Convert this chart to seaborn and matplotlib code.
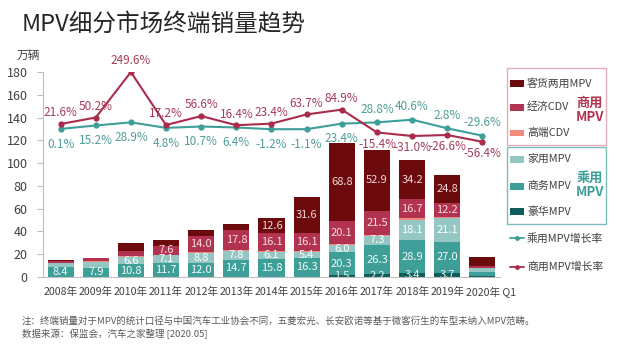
import numpy as np
import matplotlib
matplotlib.use("Agg")
import matplotlib.pyplot as plt
import matplotlib.transforms as mtransforms
import seaborn as sns
from matplotlib.patches import Rectangle
from matplotlib.lines import Line2D

# ---- data (万辆) ----
years = ["2008年", "2009年", "2010年", "2011年", "2012年", "2013年", "2014年",
         "2015年", "2016年", "2017年", "2018年", "2019年", "2020年 Q1"]
luxury_mpv = [0.3, 0.3, 0.3, 0.3, 0.3, 0.3, 0.3, 0.3, 1.5, 2.2, 3.4, 3.7, 0.5]
business_mpv = [8.4, 7.9, 10.8, 11.7, 12.0, 14.7, 15.8, 16.3, 20.3, 26.3, 28.9, 27.0, 3.6]
family_mpv = [3.2, 5.3, 6.6, 7.1, 8.8, 7.8, 6.1, 5.4, 6.0, 7.3, 18.1, 21.1, 3.5]
premium_cdv = [0.4, 0.3, 0.5, 0.5, 0.5, 0.5, 0.5, 0.5, 1.0, 1.0, 1.0, 1.0, 0.5]
economy_cdv = [1.5, 2.6, 4.5, 7.6, 14.0, 17.8, 16.1, 16.1, 20.1, 21.5, 16.7, 12.2, 1.5]
cargo_mpv = [0.8, 0.5, 7.0, 5.5, 6.0, 5.6, 12.6, 31.6, 68.8, 52.9, 34.2, 24.8, 7.6]

# growth rates (%)
passenger_growth = [0.1, 15.2, 28.9, 4.8, 10.7, 6.4, -1.2, -1.1, 23.4, 28.8, 40.6, 2.8, -29.6]
commercial_growth = [21.6, 50.2, 249.6, 17.2, 56.6, 16.4, 23.4, 63.7, 84.9, -15.4, -31.0, -26.6, -56.4]

# first year index from which each segment carries a value label (2020 Q1 never labelled)
label_from = {"豪华MPV": 8, "商务MPV": 0, "家用MPV": 2, "高端CDV": 99, "经济CDV": 3, "客货两用MPV": 6}

C_LUX = "#0E5D5B"
C_BUS = "#3D9F98"
C_FAM = "#94C7C3"
C_PRE = "#F28A7E"
C_ECO = "#B2334F"
C_CAR = "#6C0A0D"
C_PASS_LINE = "#3E9F98"
C_COMM_LINE = "#A92C4C"

layers = [  # bottom -> top
    ("豪华MPV", luxury_mpv, C_LUX, "#E6F2F1"),
    ("商务MPV", business_mpv, C_BUS, "#F2FAF9"),
    ("家用MPV", family_mpv, C_FAM, "#FFFFFF"),
    ("高端CDV", premium_cdv, C_PRE, "#FFFFFF"),
    ("经济CDV", economy_cdv, C_ECO, "#F8DCE2"),
    ("客货两用MPV", cargo_mpv, C_CAR, "#F3D6D6"),
]

sns.set_style("white")
plt.rcParams["font.family"] = ["Noto Sans CJK SC", "DejaVu Sans"]
plt.rcParams["axes.unicode_minus"] = False

W, H = 620, 348
fig = plt.figure(figsize=(W / 100, H / 100), dpi=100)


def fx(px):
    return px / W


def fy(py):
    return 1 - py / H


ax = fig.add_axes([fx(43), fy(277), (500 - 43) / W, (277 - 72) / H])

n = len(years)
x = np.arange(n)

# cumulative tops of each stacked segment
tops, bottoms = [], []
cum = np.zeros(n)
for _, vals, _, _ in layers:
    bottoms.append(cum.copy())
    cum = cum + np.asarray(vals, dtype=float)
    tops.append(cum.copy())

# draw the tallest cumulative stack first, lower segments cover it
for (name, vals, color, _), top in reversed(list(zip(layers, tops))):
    sns.barplot(x=years, y=top, order=years, color=color, saturation=1,
                width=0.74, linewidth=0, errorbar=None, ax=ax)

# segment value labels
for (name, vals, color, tcolor), bot in zip(layers, bottoms):
    start = label_from[name]
    for i in range(n - 1):
        if i >= start:
            ax.text(i, bot[i] + vals[i] / 2, f"{vals[i]:.1f}", ha="center", va="center",
                    fontsize=8, color=tcolor, clip_on=True)

ax.set_ylim(0, 180)
ax.set_yticks(range(0, 181, 20))
ax.set_xticks(x)
ax.set_xticklabels(years)
ax.set_xticks(np.arange(-0.5, n, 1.0), minor=True)
ax.tick_params(axis="x", which="major", length=0, pad=7, labelsize=7.6, labelcolor="#404040")
ax.tick_params(axis="x", which="minor", length=4, width=0.8, color="#BFBFBF", direction="out")
ax.tick_params(axis="y", length=4, width=0.8, color="#BFBFBF", pad=7, labelsize=9,
               labelcolor="#404040", direction="out", left=True)
ax.set_xlabel("")
ax.set_ylabel("")
# the quarter label sits a little to the right of its bar
last = ax.get_xticklabels()[-1]
last.set_transform(last.get_transform() + mtransforms.ScaledTranslation(9 / 100, 0, fig.dpi_scale_trans))
for side in ("top", "right"):
    ax.spines[side].set_visible(False)
for side in ("left", "bottom"):
    ax.spines[side].set_color("#BFBFBF")
    ax.spines[side].set_linewidth(0.8)

# growth-rate lines on a hidden secondary scale
ax2 = ax.twinx()
sns.lineplot(x=x, y=passenger_growth, color=C_PASS_LINE, marker="o", markersize=4.5,
             markeredgewidth=0, linewidth=1.5, ax=ax2)
sns.lineplot(x=x, y=commercial_growth, color=C_COMM_LINE, marker="o", markersize=4.5,
             markeredgewidth=0, linewidth=1.5, ax=ax2)
ax2.set_ylim(-650, 250)
ax2.axis("off")

for i in range(n):
    pg, cg = passenger_growth[i], commercial_growth[i]
    comm_above = cg >= pg
    ax2.annotate(f"{cg:.1f}%", (i, cg), xytext=(0, 8 if comm_above else -8.5),
                 textcoords="offset points", ha="center", va="center",
                 fontsize=8.5, color="#A53C58", annotation_clip=False)
    ax2.annotate(f"{pg:.1f}%", (i, pg), xytext=(0, -11 if comm_above else 9.5),
                 textcoords="offset points", ha="center", va="center",
                 fontsize=8.5, color="#4E9E99", annotation_clip=False)

ax.set_xlim(-0.5, n - 0.5)

# titles and notes
fig.text(fx(22), fy(24), "MPV细分市场终端销量趋势", fontsize=17, color="#262626",
         ha="left", va="center")
fig.text(fx(17), fy(55), "万辆", fontsize=8.5, color="#404040", ha="left", va="center")
fig.text(fx(22), fy(321),
         "注：终端销量对于MPV的统计口径与中国汽车工业协会不同，五菱宏光、长安欧诺等基于微客衍生的车型未纳入MPV范畴。",
         fontsize=6.8, color="#595959", ha="left", va="center")
fig.text(fx(22), fy(334), "数据来源：保监会，汽车之家整理 [2020.05]",
         fontsize=6.8, color="#595959", ha="left", va="center")

# legend
def box(top, bottom, edge):
    fig.add_artist(Rectangle((fx(507), fy(bottom)), (606 - 507) / W, (bottom - top) / H,
                             transform=fig.transFigure, fill=False, edgecolor=edge, lw=1))


def patch_item(py, color, label):
    fig.add_artist(Rectangle((fx(510), fy(py + 3.5)), 14 / W, 7 / H,
                             transform=fig.transFigure, facecolor=color, edgecolor="none"))
    fig.text(fx(527), fy(py), label, fontsize=7.8, color="#404040", ha="left", va="center")


def line_item(py, color, label):
    fig.add_artist(Line2D([fx(510), fx(524)], [fy(py), fy(py)], transform=fig.transFigure,
                          color=color, lw=1.3))
    fig.add_artist(Line2D([fx(517)], [fy(py)], transform=fig.transFigure, color=color,
                          marker="o", markersize=3.5, markeredgewidth=0))
    fig.text(fx(527), fy(py), label, fontsize=7.8, color="#404040", ha="left", va="center")


box(68, 145, "#E3AFBC")
box(147, 224, "#7DBDB8")
patch_item(83, C_CAR, "客货两用MPV")
patch_item(107, C_ECO, "经济CDV")
patch_item(133, C_PRE, "高端CDV")
patch_item(159, C_FAM, "家用MPV")
patch_item(186, C_BUS, "商务MPV")
patch_item(212, C_LUX, "豪华MPV")
line_item(238, C_PASS_LINE, "乘用MPV增长率")
line_item(267, C_COMM_LINE, "商用MPV增长率")
fig.text(fx(590), fy(110), "商用\nMPV", fontsize=9.5, fontweight="bold", color="#B2334F",
         ha="center", va="center", linespacing=1.0)
fig.text(fx(590), fy(185), "乘用\nMPV", fontsize=9.5, fontweight="bold", color="#3D9F98",
         ha="center", va="center", linespacing=1.0)

fig.savefig("out.png", dpi=100)
